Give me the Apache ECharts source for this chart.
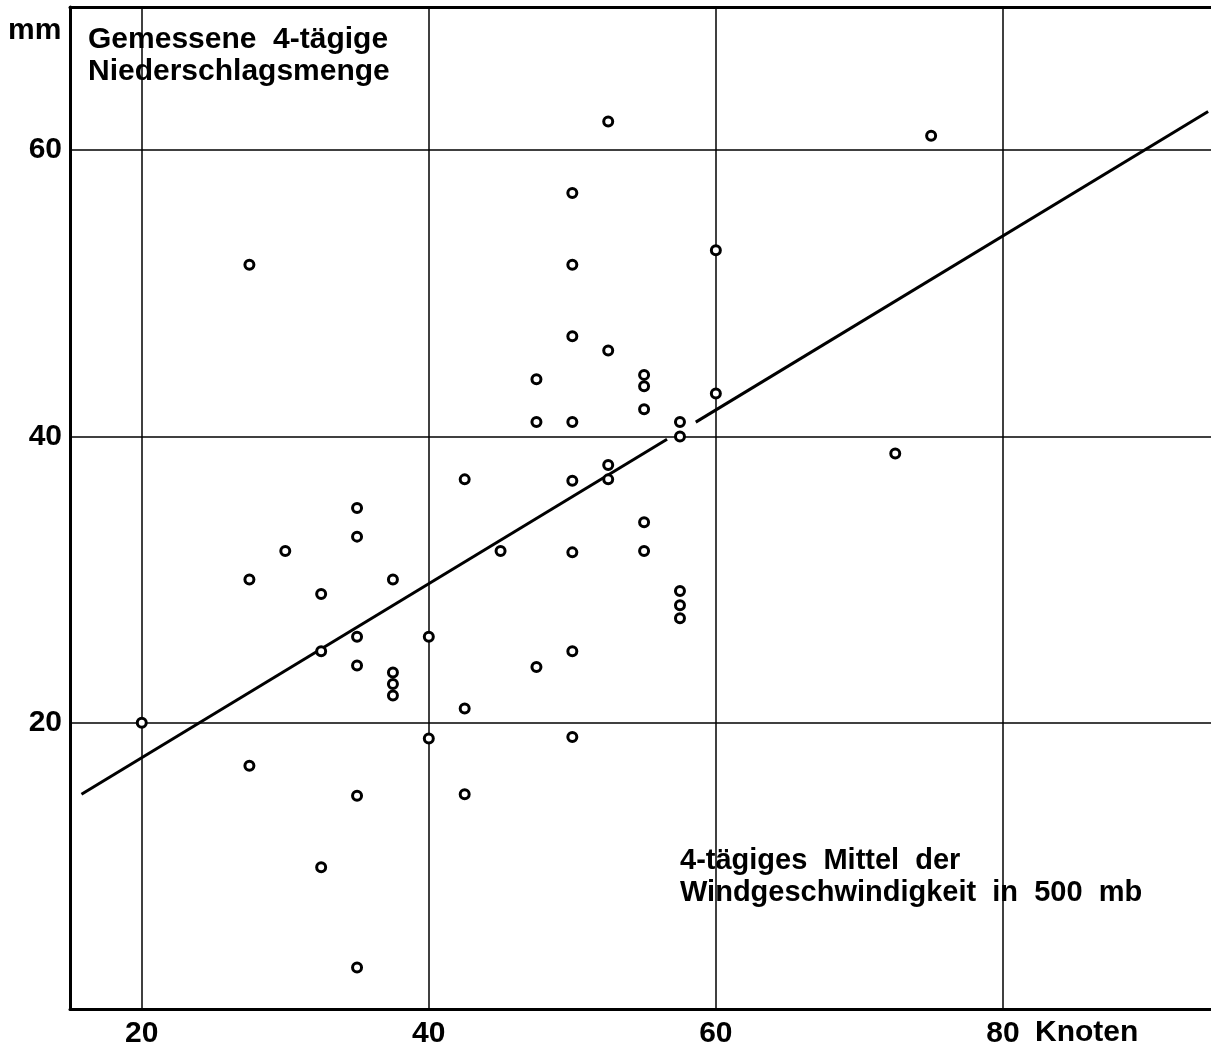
<!DOCTYPE html>
<html>
<head>
<meta charset="utf-8">
<title>Niederschlag und Windgeschwindigkeit</title>
<script src="https://cdn.jsdelivr.net/npm/echarts@6.0.0/dist/echarts.min.js"></script>
<style>
    html, body {margin: 0; padding: 0; background: #fff;}
    #chart {width: 1211px; height: 1043px;}
</style>
</head>
<body>
<div id="chart"></div>
<script>
// Wind (Knoten) und Niederschlag (mm), je ein Punkt
var windKnots = [20, 27.5, 27.5, 27.5, 30, 32.5, 32.5, 32.5, 35, 35, 35, 35, 35, 35,
    37.5, 37.5, 37.5, 37.5, 40, 40, 42.5, 42.5, 42.5, 45, 47.5, 47.5, 47.5,
    50, 50, 50, 50, 50, 50, 50, 50, 52.5, 52.5, 52.5, 52.5,
    55, 55, 55, 55, 55, 57.5, 57.5, 57.5, 57.5, 57.5, 60, 60, 72.5, 75];
var rainMm = [20, 52, 30, 17, 32, 29, 25, 9.9, 35, 33, 26, 24, 14.9, 2.9,
    30, 23.5, 22.7, 21.9, 26, 18.9, 37, 21, 15, 32, 44, 41, 23.9,
    57, 52, 47, 41, 36.9, 31.9, 25, 19, 62, 46, 38, 37,
    44.3, 43.5, 41.9, 34, 32, 41, 40, 29.2, 28.2, 27.3, 53, 43, 38.8, 61];
// Regressionsgerade, mit Luecke bei 57.5 kn
var trendLow = [[15.8, 15.0], [56.6, 39.8]];
var trendHigh = [[58.6, 41.0], [94.3, 62.7]];
var xTicks = [20, 40, 60, 80];
var yTicks = [20, 40, 60];

var points = [];
for (var i = 0; i < windKnots.length; i++) {
    points.push([windKnots[i], rainMm[i]]);
}
var vLines = [];
for (var j = 0; j < xTicks.length; j++) {
    vLines.push({xAxis: xTicks[j]});
}

var FAMILY = '"Liberation Sans", Arial, sans-serif';
var TITLE_FONT = 'bold 30px ' + FAMILY;
var NOTE_FONT = 'bold 29px ' + FAMILY;
var TICK_FONT = {fontFamily: FAMILY, fontWeight: 'bold', fontSize: 30, color: '#000'};

var myChart = echarts.init(document.getElementById('chart'));
var option = {
    animation: false,
    backgroundColor: '#fff',
    grid: {left: 70, top: 7, right: 0, bottom: 34, outerBoundsMode: 'none', containLabel: false},
    xAxis: [{
        type: 'value',
        min: 15,
        max: 94.5,
        axisLine: {lineStyle: {color: '#000', width: 3}},
        axisTick: {show: false},
        splitLine: {show: false},
        axisLabel: Object.assign({
            customValues: xTicks,
            margin: 10,
            formatter: function (v) {
                return xTicks.indexOf(v) >= 0 ? String(v) : '';
            }
        }, TICK_FONT)
    }, {
        // obere Rahmenlinie
        type: 'value',
        position: 'top',
        min: 15,
        max: 94.5,
        axisLine: {show: true, lineStyle: {color: '#000', width: 3}},
        axisTick: {show: false},
        axisLabel: {show: false},
        splitLine: {show: false}
    }],
    yAxis: {
        type: 'value',
        min: 0,
        max: 70,
        interval: 20,
        axisLine: {show: true, lineStyle: {color: '#000', width: 3}},
        axisTick: {show: false},
        splitLine: {lineStyle: {color: '#000', width: 1.5}},
        axisLabel: Object.assign({
            margin: 8,
            formatter: function (v) {
                return yTicks.indexOf(v) >= 0 ? String(v) : '';
            }
        }, TICK_FONT)
    },
    series: [{
        type: 'line',
        data: trendLow,
        symbol: 'none',
        z: 2,
        lineStyle: {color: '#000', width: 3},
        markLine: {
            silent: true,
            symbol: ['none', 'none'],
            label: {show: false},
            lineStyle: {color: '#000', width: 1.5, type: 'solid'},
            data: vLines
        }
    }, {
        type: 'line',
        data: trendHigh,
        symbol: 'none',
        z: 2,
        lineStyle: {color: '#000', width: 3}
    }, {
        type: 'scatter',
        data: points,
        symbol: 'circle',
        symbolSize: 9,
        z: 5,
        itemStyle: {color: '#fff', borderColor: '#000', borderWidth: 3, opacity: 1}
    }],
    graphic: [
        {type: 'text', x: 8, y: 31, style: {text: 'mm', font: TITLE_FONT, fill: '#000', verticalAlign: 'middle'}},
        {type: 'text', x: 88, y: 40, style: {text: 'Gemessene  4-tägige', font: TITLE_FONT, fill: '#000', verticalAlign: 'middle'}},
        {type: 'text', x: 88, y: 72, style: {text: 'Niederschlagsmenge', font: TITLE_FONT, fill: '#000', verticalAlign: 'middle'}},
        {type: 'text', x: 680, y: 861, style: {text: '4-tägiges  Mittel  der', font: NOTE_FONT, fill: '#000', verticalAlign: 'middle'}},
        {type: 'text', x: 680, y: 893, style: {text: 'Windgeschwindigkeit  in  500  mb', font: NOTE_FONT, fill: '#000', verticalAlign: 'middle'}},
        {type: 'text', x: 1035, y: 1033, style: {text: 'Knoten', font: TITLE_FONT, fill: '#000', verticalAlign: 'middle'}}
    ]
};
myChart.setOption(option);
</script>
</body>
</html>
